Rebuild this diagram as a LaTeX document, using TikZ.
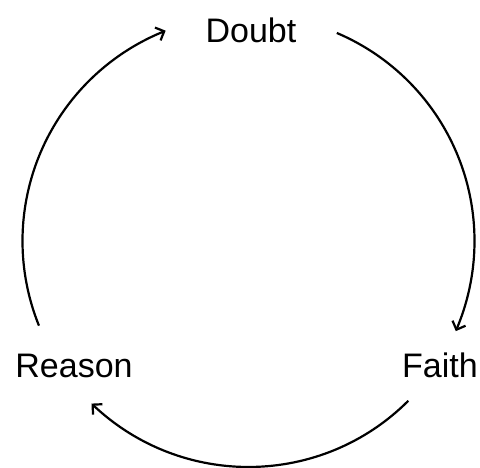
\documentclass[tikz,border=0pt]{standalone}
\usepackage{fontspec}
\setmainfont{Liberation Sans}
\usetikzlibrary{arrows.meta,calc,bending}
\begin{document}
\begin{tikzpicture}[x=1pt,y=1pt,
  lbl/.style={anchor=base,inner sep=0pt,font=\fontsize{34}{40}\selectfont},
  cyc/.style={line width=2.2pt,-{Straight Barb[length=7pt,width=14pt,line width=2.2pt,bend]}}]
\useasboundingbox (0,0) rectangle (480,468);
\coordinate (c) at (248.5,227);
\node[lbl] (doubt) at (251,425) {Doubt};
\node[lbl] (reason) at (74,90) {Reason};
\node[lbl] (faith) at (440,90) {Faith};
\coordinate (a1) at ($(c)+(67:226)$);
\coordinate (a2) at ($(c)+(-45:226)$);
\coordinate (a3) at ($(c)+(202:226)$);
\draw[cyc] (a1) arc[start angle=67,end angle=-23.5,radius=226];
\draw[cyc] (a2) arc[start angle=-45,end angle=-134,radius=226];
\draw[cyc] (a3) arc[start angle=202,end angle=111.5,radius=226];
\end{tikzpicture}
\end{document}
